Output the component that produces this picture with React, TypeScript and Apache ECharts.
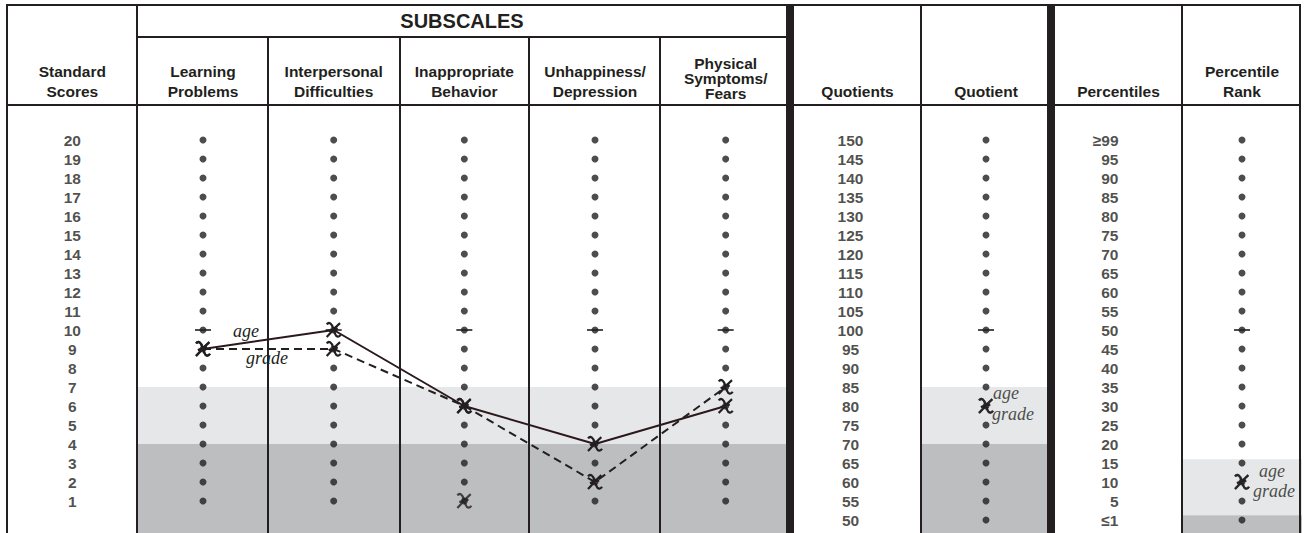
import React, { useEffect, useRef } from 'react';
import * as echarts from 'echarts';

// ---------------- data ----------------
const standardScores = [20, 19, 18, 17, 16, 15, 14, 13, 12, 11, 10, 9, 8, 7, 6, 5, 4, 3, 2, 1];
const subscaleHeaders = [
  'Learning\nProblems',
  'Interpersonal\nDifficulties',
  'Inappropriate\nBehavior',
  'Unhappiness/\nDepression',
  'Physical\nSymptoms/\nFears',
];
const ageScores = [9, 10, 6, 4, 6];
const gradeScores = [9, 9, 6, 2, 7];
const strayMarkColumns = [3];
const strayMarkScores = [1];
const meanScore = 10;
const scoreLightBand = [7, 4];
const scoreDarkBand = [4, -1];

const quotientTicks = [150, 145, 140, 135, 130, 125, 120, 115, 110, 105, 100, 95, 90, 85, 80, 75, 70, 65, 60, 55, 50];
const meanQuotient = 100;
const ageQuotient = 80;
const gradeQuotient = 80;
const quotientLightBand = [85, 70];
const quotientDarkBand = [70, 45];

const percentileTicks = ['≥99', '95', '90', '85', '80', '75', '70', '65', '60', '55', '50', '45', '40', '35', '30', '25', '20', '15', '10', '5', '≤1'];
const percentileValues = [99, 95, 90, 85, 80, 75, 70, 65, 60, 55, 50, 45, 40, 35, 30, 25, 20, 15, 10, 5, 1];
const meanPercentile = '50';
const agePercentile = '10';
const gradePercentile = '10';
const percentileLightBand = [16, 2];

// ---------------- styles ----------------
const INK = '#231f20';
const LINE_INK = '#2b181b';
const LIGHT = '#e6e7e8';
const DARK = '#bcbec0';
const SANS = '"Liberation Sans", Arial, Helvetica, sans-serif';
const SERIF = '"Liberation Serif", "DejaVu Serif", serif';
const MARK = 'path://M2,3 C4,0.5 6,2.5 7,6 L8.6,10.5 C9.6,13.2 11.8,13.4 13,11.2 M12.5,2 C10,4 7,7.5 2,13 M3.5,8.2 L10.8,6.2';

const headerLabel = {
  interval: 0,
  margin: 1,
  fontFamily: SANS,
  fontWeight: 'bold' as const,
  fontSize: 15.5,
  lineHeight: 20,
  color: INK,
  formatter: (v: string) => (v.split('\n').length > 2 ? `{t|${v}}` : v),
  rich: {
    t: { fontFamily: SANS, fontWeight: 'bold' as const, fontSize: 15.5, lineHeight: 15, color: INK },
  },
};

const numberLabel = {
  show: true,
  position: 'inside' as const,
  fontFamily: SANS,
  fontWeight: 'bold' as const,
  fontSize: 15.5,
  color: INK,
};

const hand = (text: string, dx: number, dy: number) => ({
  show: true,
  formatter: text,
  position: 'inside' as const,
  offset: [dx, dy],
  fontFamily: SERIF,
  fontStyle: 'italic' as const,
  fontSize: 18,
  lineHeight: 16,
  color: INK,
});

function pctRow(p: number): number {
  for (let i = 0; i < percentileValues.length - 1; i++) {
    const a = percentileValues[i];
    const b = percentileValues[i + 1];
    if (p <= a && p >= b) return i + (a - p) / (a - b);
  }
  return percentileValues.length - 1;
}

function buildOption() {
  const catAxis = (gridIndex: number, data: string[]) => ({
    type: 'category',
    gridIndex,
    position: 'top',
    data,
    boundaryGap: true,
    axisLine: { show: false },
    axisTick: { show: false },
    splitLine: { show: false },
    axisLabel: headerLabel,
  });
  const hiddenY = (gridIndex: number, min: number, max: number, inverse = false) => ({
    type: 'value',
    gridIndex,
    min,
    max,
    inverse,
    show: false,
    splitLine: { show: false },
  });

  const subscaleCols = subscaleHeaders.map((_, i) => i + 1);
  const dotStyle = { color: INK };
  const markStyle = { color: 'rgba(0,0,0,0)', borderColor: INK, borderWidth: 2.2 };

  const meanPctIndex = percentileTicks.indexOf(meanPercentile);
  const agePctIndex = percentileTicks.indexOf(agePercentile);
  const gradePctIndex = percentileTicks.indexOf(gradePercentile);
  const pLight = [pctRow(percentileLightBand[0]), pctRow(percentileLightBand[1])];

  const series: any[] = [
    // standard score labels
    {
      type: 'scatter', xAxisIndex: 1, yAxisIndex: 0, symbolSize: 1,
      itemStyle: { color: 'rgba(0,0,0,0)' },
      label: { ...numberLabel, formatter: (p: any) => String(p.value[1]) },
      data: standardScores.map((s) => [0, s]),
    },
    // subscale dots + bands
    {
      type: 'scatter', xAxisIndex: 1, yAxisIndex: 0, symbolSize: 7, itemStyle: dotStyle, z: 3,
      data: subscaleCols.flatMap((c) => standardScores.map((s) => [c, s])),
      markArea: {
        silent: true,
        data: [
          [{ xAxis: 0.5, yAxis: scoreLightBand[0], itemStyle: { color: LIGHT } }, { xAxis: 5.5, yAxis: scoreLightBand[1] }],
          [{ xAxis: 0.5, yAxis: scoreDarkBand[0], itemStyle: { color: DARK } }, { xAxis: 5.5, yAxis: scoreDarkBand[1] }],
        ],
      },
    },
    // mean ticks
    {
      type: 'scatter', xAxisIndex: 1, yAxisIndex: 0, symbol: 'rect', symbolSize: [16, 2], itemStyle: dotStyle, z: 3,
      data: subscaleCols.map((c) => [c, meanScore]),
    },
    // age profile
    {
      name: 'age', type: 'line', xAxisIndex: 1, yAxisIndex: 0, z: 6,
      symbol: MARK, symbolSize: 14, showSymbol: true,
      itemStyle: markStyle,
      lineStyle: { color: LINE_INK, width: 2, type: 'solid' },
      data: ageScores.map((s, i) =>
        i === 0 ? { value: [i + 1, s], label: hand('age', 43, -18) } : [i + 1, s]
      ),
    },
    // grade profile
    {
      name: 'grade', type: 'line', xAxisIndex: 1, yAxisIndex: 0, z: 6,
      symbol: MARK, symbolSize: 14, showSymbol: true,
      itemStyle: markStyle,
      lineStyle: { color: INK, width: 2, type: [8, 5] },
      data: gradeScores.map((s, i) =>
        i === 0 ? { value: [i + 1, s], label: hand('grade', 64, 9) } : [i + 1, s]
      ),
    },
    // stray mark
    {
      type: 'scatter', xAxisIndex: 1, yAxisIndex: 0, z: 6, symbol: MARK, symbolSize: 14, itemStyle: markStyle,
      data: strayMarkColumns.map((c, i) => [c, strayMarkScores[i]]),
    },
    // quotient labels
    {
      type: 'scatter', xAxisIndex: 2, yAxisIndex: 1, symbolSize: 1,
      itemStyle: { color: 'rgba(0,0,0,0)' },
      label: { ...numberLabel, offset: [-7, 0], formatter: (p: any) => String(p.value[1]) },
      data: quotientTicks.map((q) => [0, q]),
    },
    // quotient dots + bands
    {
      type: 'scatter', xAxisIndex: 3, yAxisIndex: 2, symbolSize: 7, itemStyle: dotStyle, z: 3,
      data: quotientTicks.map((q) => [0, q]),
      markArea: {
        silent: true,
        data: [
          [{ yAxis: quotientLightBand[0], itemStyle: { color: LIGHT } }, { yAxis: quotientLightBand[1] }],
          [{ yAxis: quotientDarkBand[0], itemStyle: { color: DARK } }, { yAxis: quotientDarkBand[1] }],
        ],
      },
    },
    {
      type: 'scatter', xAxisIndex: 3, yAxisIndex: 2, symbol: 'rect', symbolSize: [16, 2], itemStyle: dotStyle, z: 3,
      data: [[0, meanQuotient]],
    },
    {
      name: 'age', type: 'scatter', xAxisIndex: 3, yAxisIndex: 2, z: 6, symbol: MARK, symbolSize: 14, itemStyle: markStyle,
      data: [{ value: [0, ageQuotient], label: hand('age', 20, -13) }],
    },
    {
      name: 'grade', type: 'scatter', xAxisIndex: 3, yAxisIndex: 2, z: 6, symbol: MARK, symbolSize: 14, itemStyle: markStyle,
      data: [{ value: [0, gradeQuotient], label: hand('grade', 27, 8) }],
    },
    // percentile labels
    {
      type: 'scatter', xAxisIndex: 4, yAxisIndex: 3, symbolSize: 1,
      itemStyle: { color: 'rgba(0,0,0,0)' },
      label: { ...numberLabel, align: 'right', formatter: '{b}' },
      data: percentileTicks.map((p, i) => ({ name: p, value: [0, i] })),
    },
    // percentile rank dots + bands
    {
      type: 'scatter', xAxisIndex: 5, yAxisIndex: 4, symbolSize: 7, itemStyle: dotStyle, z: 3,
      data: percentileTicks.map((_, i) => [0, i]),
      markArea: {
        silent: true,
        data: [
          [{ yAxis: pLight[0], itemStyle: { color: LIGHT } }, { yAxis: pLight[1] }],
          [{ yAxis: pLight[1], itemStyle: { color: DARK } }, { yAxis: percentileTicks.length }],
        ],
      },
    },
    {
      type: 'scatter', xAxisIndex: 5, yAxisIndex: 4, symbol: 'rect', symbolSize: [16, 2], itemStyle: dotStyle, z: 3,
      data: [[0, meanPctIndex]],
    },
    {
      name: 'age', type: 'scatter', xAxisIndex: 5, yAxisIndex: 4, z: 6, symbol: MARK, symbolSize: 14, itemStyle: markStyle,
      data: [{ value: [0, agePctIndex], label: hand('age', 30, -11) }],
    },
    {
      name: 'grade', type: 'scatter', xAxisIndex: 5, yAxisIndex: 4, z: 6, symbol: MARK, symbolSize: 14, itemStyle: markStyle,
      data: [{ value: [0, gradePctIndex], label: hand('grade', 32, 9) }],
    },
  ];

  // table frame
  const line = (x1: number, y1: number, x2: number, y2: number, w = 2) => ({
    type: 'line', silent: true, z: 100,
    shape: { x1, y1, x2, y2 },
    style: { stroke: INK, lineWidth: w },
  });
  const bar = (x: number) => ({
    type: 'rect', silent: true, z: 100,
    shape: { x, y: 4, width: 8, height: 529 },
    style: { fill: INK },
  });
  const graphic = [
    line(6, 5, 1301, 5),
    line(137, 37, 790, 37),
    line(6, 105, 1301, 105),
    line(7, 4, 7, 533),
    line(137, 4, 137, 533),
    line(268, 37, 268, 533),
    line(400, 37, 400, 533),
    line(529, 37, 529, 533),
    line(660, 37, 660, 533),
    line(921, 4, 921, 533),
    line(1182, 4, 1182, 533),
    line(1300, 4, 1300, 533),
    bar(786),
    bar(1047),
    {
      type: 'text', silent: true, z: 100, x: 462, y: 21,
      style: {
        text: 'SUBSCALES', fill: INK, font: `bold 20px ${SANS}`,
        textAlign: 'center', textVerticalAlign: 'middle',
      },
    },
  ];

  const gridBase = { top: 102, height: 437, outerBoundsMode: 'none', containLabel: false };

  return {
    animation: false,
    backgroundColor: '#ffffff',
    grid: [
      { ...gridBase, left: 7, width: 784 },
      { ...gridBase, left: 794, width: 127 },
      { ...gridBase, left: 921, width: 130 },
      { ...gridBase, left: 1055, width: 127 },
      { ...gridBase, left: 1182, width: 120 },
    ],
    xAxis: [
      catAxis(0, ['Standard\nScores', ...subscaleHeaders]),
      { type: 'value', gridIndex: 0, min: -0.5, max: 5.5, show: false, splitLine: { show: false } },
      catAxis(1, ['Quotients']),
      catAxis(2, ['Quotient']),
      catAxis(3, ['Percentiles']),
      catAxis(4, ['Percentile\nRank']),
    ],
    yAxis: [
      hiddenY(0, -1, 22),
      hiddenY(1, 45, 160),
      hiddenY(2, 45, 160),
      hiddenY(3, -2, 21, true),
      hiddenY(4, -2, 21, true),
    ],
    series,
    graphic,
  };
}

export default function App() {
  const ref = useRef<HTMLDivElement>(null);
  useEffect(() => {
    if (!ref.current) return;
    const chart = echarts.init(ref.current, null, { renderer: 'svg' });
    chart.setOption(buildOption() as any);
    return () => chart.dispose();
  }, []);
  return (
    <div
      ref={ref}
      style={{ position: 'fixed', left: 0, top: 0, width: 1309, height: 533, background: '#ffffff' }}
    />
  );
}
